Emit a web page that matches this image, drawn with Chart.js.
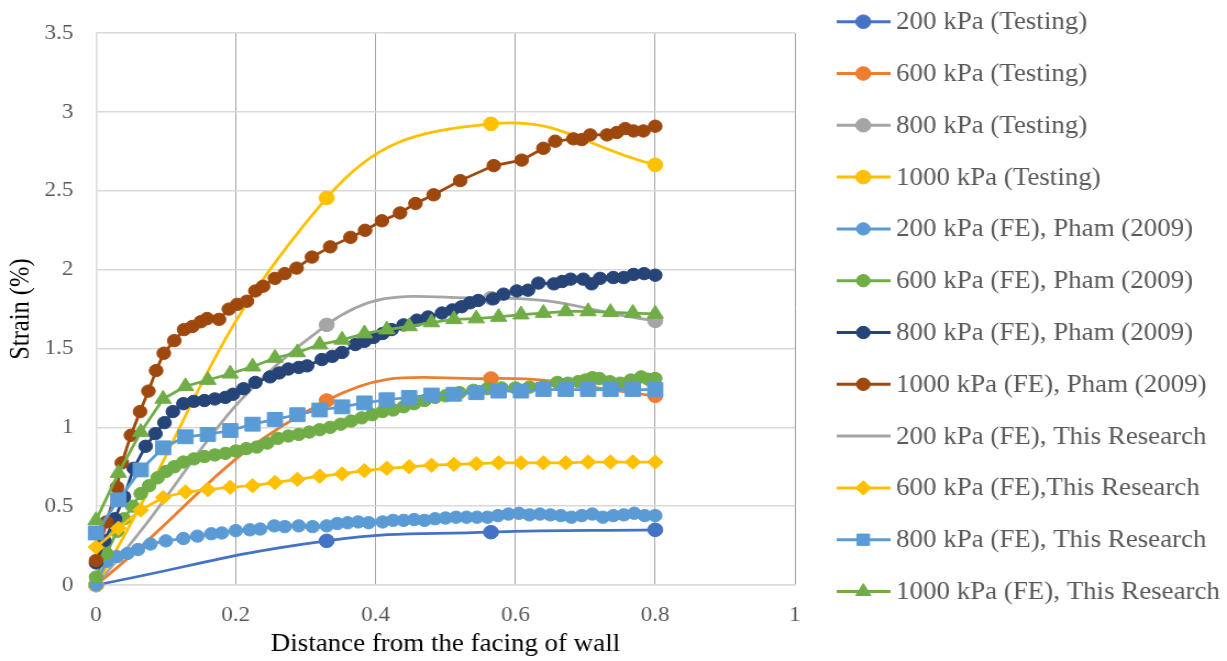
<!DOCTYPE html>
<html>
<head>
<meta charset="utf-8">
<script src="https://cdn.jsdelivr.net/npm/chart.js@4.4.1/dist/chart.umd.min.js"></script>
<style>
  html, body { margin: 0; padding: 0; background: #fff; overflow: hidden; }
  #wrap { width: 1227px; height: 661px; overflow: hidden; }
  #c { display: block; transform: scaleX(1.09946); transform-origin: 0 0; }
</style>
</head>
<body>
<div id="wrap"><canvas id="c" width="1116" height="661"></canvas></div>
<script>
// ---- Measured strain (%) vs distance from wall facing ----
const testX   = [0, 0.33, 0.565, 0.8];
const test200 = [0, 0.28, 0.335, 0.35];
const test600 = [0, 1.17, 1.31, 1.2];
const test800 = [0, 1.65, 1.82, 1.675];
const test1000 = [0, 2.455, 2.925, 2.665];

// ---- FE results, Pham (2009): [distance, strain] ----
const pham200 = [[0,0],[0.015,0.15],[0.03,0.18],[0.045,0.2],[0.06,0.225],[0.078,0.26],[0.1,0.28],[0.125,0.295],[0.145,0.31],[0.165,0.325],
  [0.18,0.33],[0.2,0.345],[0.22,0.35],[0.235,0.355],[0.255,0.375],[0.27,0.37],[0.29,0.375],[0.31,0.37],[0.33,0.375],[0.345,0.39],
  [0.36,0.395],[0.375,0.4],[0.39,0.395],[0.41,0.4],[0.425,0.41],[0.44,0.41],[0.455,0.415],[0.47,0.41],[0.485,0.42],[0.5,0.425],
  [0.515,0.43],[0.53,0.43],[0.545,0.43],[0.56,0.43],[0.575,0.44],[0.59,0.45],[0.605,0.455],[0.62,0.445],[0.635,0.45],[0.65,0.445],
  [0.665,0.44],[0.68,0.43],[0.695,0.44],[0.71,0.45],[0.725,0.43],[0.74,0.44],[0.755,0.445],[0.77,0.455],[0.785,0.44],[0.8,0.44]];

const pham600 = [[0,0.05],[0.015,0.2],[0.03,0.34],[0.04,0.42],[0.052,0.5],[0.064,0.58],[0.076,0.63],[0.088,0.68],[0.1,0.72],[0.112,0.75],
  [0.125,0.78],[0.14,0.8],[0.155,0.815],[0.17,0.825],[0.185,0.835],[0.2,0.85],[0.215,0.865],[0.23,0.875],[0.245,0.9],[0.26,0.93],
  [0.275,0.945],[0.29,0.955],[0.305,0.97],[0.32,0.985],[0.335,1.0],[0.35,1.02],[0.365,1.04],[0.38,1.06],[0.395,1.08],[0.41,1.1],
  [0.425,1.11],[0.44,1.13],[0.455,1.15],[0.47,1.17],[0.485,1.19],[0.5,1.2],[0.52,1.22],[0.54,1.235],[0.56,1.245],[0.58,1.25],
  [0.6,1.25],[0.62,1.255],[0.64,1.26],[0.66,1.285],[0.675,1.28],[0.69,1.29],[0.7,1.3],[0.71,1.315],[0.72,1.31],[0.735,1.29],
  [0.75,1.28],[0.765,1.3],[0.78,1.32],[0.79,1.305],[0.8,1.31]];

const pham800 = [[0,0.14],[0.012,0.28],[0.027,0.42],[0.04,0.56],[0.054,0.74],[0.071,0.88],[0.085,0.96],[0.098,1.03],[0.11,1.1],[0.125,1.15],
  [0.14,1.165],[0.155,1.17],[0.17,1.18],[0.185,1.19],[0.196,1.21],[0.211,1.245],[0.228,1.285],[0.249,1.32],[0.262,1.345],[0.275,1.37],
  [0.29,1.38],[0.302,1.39],[0.323,1.43],[0.338,1.45],[0.352,1.475],[0.371,1.525],[0.384,1.545],[0.397,1.57],[0.41,1.595],[0.423,1.62],
  [0.44,1.65],[0.459,1.68],[0.475,1.7],[0.495,1.725],[0.51,1.745],[0.523,1.765],[0.535,1.79],[0.547,1.805],[0.568,1.815],[0.583,1.845],
  [0.602,1.865],[0.618,1.87],[0.633,1.915],[0.655,1.91],[0.667,1.925],[0.679,1.94],[0.697,1.94],[0.709,1.91],[0.721,1.945],[0.74,1.95],
  [0.755,1.95],[0.769,1.97],[0.784,1.975],[0.8,1.965]];

const pham1000 = [[0,0.155],[0.015,0.4],[0.03,0.62],[0.037,0.775],[0.05,0.95],[0.063,1.1],[0.075,1.23],[0.086,1.36],[0.097,1.47],[0.112,1.55],
  [0.126,1.62],[0.138,1.64],[0.15,1.67],[0.159,1.69],[0.176,1.685],[0.19,1.75],[0.202,1.78],[0.216,1.8],[0.228,1.865],[0.239,1.895],
  [0.256,1.945],[0.27,1.975],[0.287,2.01],[0.309,2.08],[0.335,2.145],[0.364,2.205],[0.385,2.25],[0.409,2.31],[0.435,2.36],[0.457,2.42],
  [0.483,2.475],[0.521,2.565],[0.569,2.66],[0.609,2.695],[0.64,2.77],[0.657,2.815],[0.683,2.83],[0.695,2.825],[0.707,2.855],[0.731,2.855],
  [0.745,2.87],[0.757,2.895],[0.769,2.88],[0.783,2.88],[0.8,2.91]];

// ---- FE results, this research ----
const researchX = [0, 0.032, 0.064, 0.096, 0.128, 0.16, 0.192, 0.224, 0.256, 0.288, 0.32, 0.352, 0.384,
  0.416, 0.448, 0.48, 0.512, 0.544, 0.576, 0.608, 0.64, 0.672, 0.704, 0.736, 0.768, 0.8];
const research200 = [];
const research600 = [0.24, 0.36, 0.475, 0.555, 0.59, 0.605, 0.62, 0.63, 0.65, 0.67, 0.69, 0.705, 0.725,
  0.74, 0.75, 0.76, 0.765, 0.77, 0.775, 0.775, 0.775, 0.775, 0.78, 0.78, 0.78, 0.78];
const research800 = [0.33, 0.54, 0.73, 0.87, 0.94, 0.955, 0.98, 1.02, 1.05, 1.08, 1.11, 1.13, 1.155,
  1.175, 1.19, 1.205, 1.21, 1.22, 1.23, 1.23, 1.24, 1.24, 1.24, 1.24, 1.24, 1.24];
const research1000 = [0.41, 0.71, 0.97, 1.18, 1.26, 1.30, 1.34, 1.385, 1.44, 1.475, 1.525, 1.555, 1.595,
  1.62, 1.64, 1.665, 1.685, 1.69, 1.70, 1.715, 1.725, 1.735, 1.735, 1.73, 1.725, 1.72];

const xTicks = [0, 0.2, 0.4, 0.6, 0.8, 1];
const yTicks = [0, 0.5, 1, 1.5, 2, 2.5, 3, 3.5];

// ---- helpers ----
const SERIF = '"Liberation Serif", "Times New Roman", serif';
const zipXY = (xs, ys) => ys.map((y, i) => ({ x: xs[i], y }));
const fromPairs = pairs => pairs.map(p => ({ x: p[0], y: p[1] }));

function series(label, data, color, style, radius, smooth) {
  return {
    label, data,
    borderColor: color, backgroundColor: color,
    pointBackgroundColor: color, pointBorderColor: color,
    borderWidth: 2.75, pointBorderWidth: 1,
    pointStyle: style, pointRadius: radius, pointHoverRadius: radius,
    tension: smooth ? 0.45 : 0,
    showLine: true, clip: false
  };
}

const datasets = [
  series('200 kPa (Testing)',  zipXY(testX, test200),  '#4472C4', 'circle', 6.8, true),
  series('600 kPa (Testing)',  zipXY(testX, test600),  '#ED7D31', 'circle', 6.8, true),
  series('800 kPa (Testing)',  zipXY(testX, test800),  '#A5A5A5', 'circle', 6.8, true),
  series('1000 kPa (Testing)', zipXY(testX, test1000), '#FFC000', 'circle', 6.8, true),
  series('200 kPa (FE), Pham (2009)',  fromPairs(pham200),  '#5B9BD5', 'circle', 6.2, false),
  series('600 kPa (FE), Pham (2009)',  fromPairs(pham600),  '#70AD47', 'circle', 6.2, false),
  series('800 kPa (FE), Pham (2009)',  fromPairs(pham800),  '#264478', 'circle', 6.2, false),
  series('1000 kPa (FE), Pham (2009)', fromPairs(pham1000), '#9E480E', 'circle', 6.2, false),
  series('200 kPa (FE), This Research', zipXY(researchX, research200), '#A5A5A5', false, 0, false),
  series('600 kPa (FE),This Research',  zipXY(researchX, research600), '#FFC000', 'rectRot', 7.2, false),
  series('800 kPa (FE), This Research', zipXY(researchX, research800), '#5B9BD5', 'rect', 9.8, false),
  series('1000 kPa (FE), This Research', zipXY(researchX, research1000), '#70AD47', 'triangle', 8.6, false)
];
// later series are painted over earlier ones
datasets.forEach((d, i) => { d.order = datasets.length - i; });

// ---- legend at the right: line + marker + label ----
const LEG = { lineX0: 761, lineX1: 810, markX: 785.2, textX: 815, top: 21.7, step: 51.8 };
const sideLegend = {
  id: 'sideLegend',
  afterDraw(chart) {
    const ctx = chart.ctx;
    ctx.save();
    ctx.font = '24.5px ' + SERIF;
    ctx.textAlign = 'left';
    ctx.textBaseline = 'middle';
    chart.data.datasets.forEach((ds, i) => {
      const y = LEG.top + i * LEG.step;
      ctx.strokeStyle = ds.borderColor;
      ctx.lineWidth = 3;
      ctx.beginPath();
      ctx.moveTo(LEG.lineX0, y);
      ctx.lineTo(LEG.lineX1, y);
      ctx.stroke();
      if (ds.pointStyle && ds.pointRadius > 0) {
        ctx.fillStyle = ds.backgroundColor;
        ctx.strokeStyle = ds.borderColor;
        ctx.lineWidth = 1;
        Chart.helpers.drawPoint(ctx, {
          pointStyle: ds.pointStyle, rotation: 0,
          radius: Math.min(ds.pointRadius, 8), borderWidth: 1
        }, LEG.markX, y);
      }
      ctx.fillStyle = '#595959';
      ctx.fillText(ds.label, LEG.textX, y + 1);
    });
    ctx.restore();
  }
};

const plainNumber = v => String(v);

new Chart(document.getElementById('c'), {
  type: 'scatter',
  data: { datasets },
  plugins: [sideLegend],
  options: {
    responsive: false,
    devicePixelRatio: 1,
    animation: false,
    events: [],
    layout: { padding: { top: 19.5, right: 392.9, bottom: 0, left: 0 } },
    plugins: { legend: { display: false }, tooltip: { enabled: false } },
    scales: {
      x: {
        type: 'linear', min: 0, max: 1,
        afterFit: s => { s.height = 76; },
        afterBuildTicks: s => { s.ticks = xTicks.map(v => ({ value: v })); },
        ticks: { padding: 18, color: '#595959', font: { family: SERIF, size: 21 }, callback: plainNumber },
        grid: {
          drawTicks: false, lineWidth: 1,
          color: c => (c.index === 0 ? '#d9d9d9' : '#a6a6a6')
        },
        border: { color: '#d9d9d9', width: 1.5 },
        title: {
          display: true, text: 'Distance from the facing of wall',
          color: '#000', font: { family: SERIF, size: 24.5 },
          padding: { top: 0, bottom: 1.3 }
        }
      },
      y: {
        type: 'linear', min: 0, max: 3.5,
        afterFit: s => { s.width = 87.3; },
        afterBuildTicks: s => { s.ticks = yTicks.map(v => ({ value: v })); },
        ticks: { padding: 20.6, color: '#595959', font: { family: SERIF, size: 21 }, callback: plainNumber },
        grid: { drawTicks: false, lineWidth: 1.5, color: '#d9d9d9' },
        border: { color: '#d9d9d9', width: 1.5 },
        title: {
          display: true, text: 'Strain (%)',
          color: '#000', font: { family: SERIF, size: 24.5 },
          padding: { top: 5.3, bottom: 0 }
        }
      }
    }
  }
});
</script>
</body>
</html>
